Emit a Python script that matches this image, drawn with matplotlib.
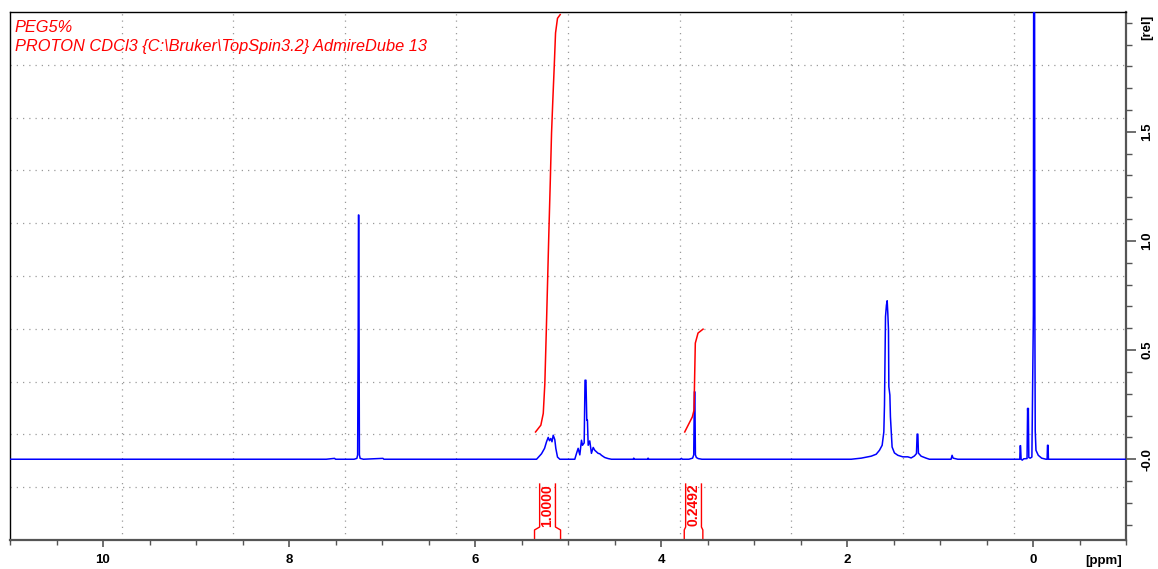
import numpy as np
import matplotlib
matplotlib.use("Agg")
import matplotlib.pyplot as plt
import matplotlib.transforms as mtransforms
from matplotlib.ticker import MultipleLocator, FixedLocator

plt.rcParams['font.family'] = ['Liberation Sans', 'DejaVu Sans']

# --- spectrum ---
shift_ppm = [11.0, 7.60, 7.51, 7.50, 7.30, 7.27, 7.262, 7.256, 7.253, 7.250, 7.247, 7.243,
             7.235, 7.20, 6.99, 6.98,
             5.40, 5.338, 5.285, 5.252, 5.231, 5.213, 5.199, 5.185, 5.172, 5.159, 5.142,
             5.131, 5.113, 5.088,
             4.927, 4.909, 4.891, 4.873, 4.855, 4.844, 4.826, 4.817, 4.807, 4.798, 4.791,
             4.783, 4.766, 4.748, 4.729, 4.712, 4.694, 4.676, 4.658, 4.640, 4.605, 4.568,
             4.533, 4.30, 4.293, 4.285, 4.145, 4.139, 4.13, 3.79, 3.78, 3.77,
             3.70, 3.66, 3.648, 3.641, 3.636, 3.630, 3.62, 3.60, 3.56,
             1.955, 1.847, 1.740, 1.686, 1.651, 1.622, 1.604, 1.597, 1.586, 1.576, 1.568,
             1.561, 1.554, 1.550, 1.539, 1.533, 1.525, 1.515, 1.490, 1.453, 1.400, 1.346,
             1.310, 1.275, 1.253, 1.246, 1.238, 1.232, 1.203, 1.149, 1.114,
             0.881, 0.870, 0.859, 0.809,
             0.15, 0.142, 0.138, 0.134, 0.128, 0.115, 0.10, 0.064, 0.058, 0.054, 0.050,
             0.045, 0.030, 0.012, -0.004, -0.008, -0.016, -0.020, -0.024, -0.032, -0.057,
             -0.093, -0.14, -0.152, -0.156, -0.162, -0.166, -1.0]
intensity = [0, 0, 0.004, 0, 0, 0.004, 0.02, 0.584, 1.119, 1.119, 0.584, 0.02,
             0.004, 0, 0.004, 0,
             0, 0, 0.025, 0.05, 0.08, 0.10, 0.085, 0.095, 0.08, 0.11, 0.09,
             0.05, 0.01, 0,
             0, 0.026, 0.05, 0.02, 0.087, 0.064, 0.075, 0.362, 0.362, 0.179, 0.179,
             0.064, 0.084, 0.027, 0.054, 0.041, 0.034, 0.027, 0.025, 0.018, 0.008, 0.003,
             0, 0, 0.005, 0, 0, 0.005, 0, 0, 0.004, 0,
             0, 0.005, 0.02, 0.309, 0.309, 0.02, 0.008, 0.003, 0,
             0, 0.005, 0.014, 0.023, 0.041, 0.064, 0.125, 0.248, 0.653, 0.706, 0.726,
             0.668, 0.592, 0.332, 0.294, 0.194, 0.133, 0.056, 0.029, 0.018, 0.011, 0.011,
             0.006, 0.015, 0.026, 0.115, 0.115, 0.028, 0.014, 0.005, 0,
             0, 0.018, 0.005, 0,
             0, 0, 0.062, 0.062, 0, -0.004, 0.002, 0.003, 0.233, 0.20, 0.233,
             0.008, 0.005, 0.01, 0.66, 2.6, 2.6, 0.66, 0.13, 0.041, 0.018,
             0.005, 0, 0, 0.064, 0.064, 0, 0]

# --- integral curves ---
int1_ppm = [5.349, 5.292, 5.266, 5.249, 5.234, 5.220, 5.206, 5.191, 5.177, 5.163, 5.148,
            5.134, 5.113, 5.084]
int1_val = [0.125, 0.156, 0.21, 0.347, 0.577, 0.806, 1.035, 1.265, 1.494, 1.647, 1.80,
            1.953, 2.02, 2.037]
int2_ppm = [3.745, 3.663, 3.645, 3.639, 3.631, 3.602, 3.548]
int2_val = [0.125, 0.194, 0.225, 0.362, 0.532, 0.578, 0.596]

int_regions = [(5.36, 5.08), (3.75, 3.55)]
int_labels = ['1.0000', '0.2492']

x_ticks = [10, 8, 6, 4, 2, 0]
y_ticks = [0.0, 0.5, 1.0, 1.5]
y_ticklabels = ['-0.0', '0.5', '1.0', '1.5']

title_lines = ['PEG5%', r'PROTON CDCl3 {C:\Bruker\TopSpin3.2} AdmireDube 13']

BLUE = '#0000ff'
RED = '#ff0000'

fig = plt.figure(figsize=(11.58, 5.69), dpi=100)
ax = fig.add_axes([10 / 1158, 29 / 569, 1116 / 1158, 528 / 569])
ax.set_xlim(11.0, -1.0)
ax.set_ylim(-0.37, 2.049)

# TopSpin style grid: 10 equal divisions, not tied to ticks
for gx in np.linspace(11.0, -1.0, 11)[1:-1]:
    ax.axvline(gx, color='#9a9a9a', lw=0.9, ls=(0, (1, 4)), zorder=0)
for gy in np.linspace(-0.37, 2.049, 11)[1:-1]:
    ax.axhline(gy, color='#9a9a9a', lw=0.9, ls=(0, (1, 4)), zorder=0)

ax.plot(shift_ppm, intensity, color=BLUE, lw=1.1, zorder=3)
ax.plot(int1_ppm, int1_val, color=RED, lw=1.1, zorder=4)
ax.plot(int2_ppm, int2_val, color=RED, lw=1.1, zorder=4)

# integral value brackets along the bottom
trans = mtransforms.blended_transform_factory(ax.transData, ax.transAxes)
half_w = 0.085
for (r_left, r_right), lab in zip(int_regions, int_labels):
    mid = (r_left + r_right) / 2
    b_left, b_right = mid + half_w, mid - half_w
    ax.plot([b_left, b_left, r_left, r_left], [0.106, 0.0246, 0.019, 0.0],
            color=RED, lw=1.0, transform=trans, clip_on=False)
    ax.plot([b_right, b_right, r_right, r_right], [0.106, 0.0246, 0.019, 0.0],
            color=RED, lw=1.0, transform=trans, clip_on=False)
    ax.text(mid, 0.066, lab, color=RED, fontsize=10, fontweight='bold', rotation=90,
            ha='center', va='center', transform=trans)

# axes, ticks
for side in ['top', 'left']:
    ax.spines[side].set_color('black')
    ax.spines[side].set_linewidth(1.0)
for side in ['bottom', 'right']:
    ax.spines[side].set_color('#555555')
    ax.spines[side].set_linewidth(1.6)

ax.xaxis.set_major_locator(FixedLocator(x_ticks))
ax.xaxis.set_minor_locator(MultipleLocator(0.5))
ax.set_xticklabels([str(t) for t in x_ticks])
ax.yaxis.set_major_locator(FixedLocator(y_ticks))
ax.yaxis.set_minor_locator(MultipleLocator(0.1))
ax.yaxis.tick_right()
ax.set_yticklabels(y_ticklabels)

ax.tick_params(axis='x', which='major', direction='out', length=5, width=1.2,
               color='#555555', pad=5, labelsize=9.5)
ax.tick_params(axis='x', which='minor', direction='out', length=3.4, width=1.0,
               color='#555555')
ax.tick_params(axis='y', which='major', direction='out', length=7.2, width=1.2,
               color='#555555', pad=4, labelsize=9.5, left=False, right=True,
               labelleft=False, labelright=True)
ax.tick_params(axis='y', which='minor', direction='out', length=4, width=1.0,
               color='#555555', left=False, right=True)
for lbl in ax.get_xticklabels():
    lbl.set_fontweight('bold')
for lbl in ax.get_yticklabels():
    lbl.set_fontweight('bold')
    lbl.set_rotation(90)
    lbl.set_va('center')
    lbl.set_ha('left')

ax.text(0.980, -0.040, '[ppm]', transform=ax.transAxes, ha='center', va='center',
        fontsize=9.5, fontweight='bold')
ax.text(1.019, 0.9716, '[rel]', transform=ax.transAxes, ha='center', va='center',
        fontsize=9.5, fontweight='bold', rotation=90)

# sample / experiment header
fig.text(15 / 1158, 1 - 27 / 569, title_lines[0], color=RED, fontsize=11.8,
         style='italic', ha='left', va='center')
fig.text(15 / 1158, 1 - 47 / 569, title_lines[1], color=RED, fontsize=11.8,
         style='italic', ha='left', va='center')

fig.savefig('out.png', dpi=100)
